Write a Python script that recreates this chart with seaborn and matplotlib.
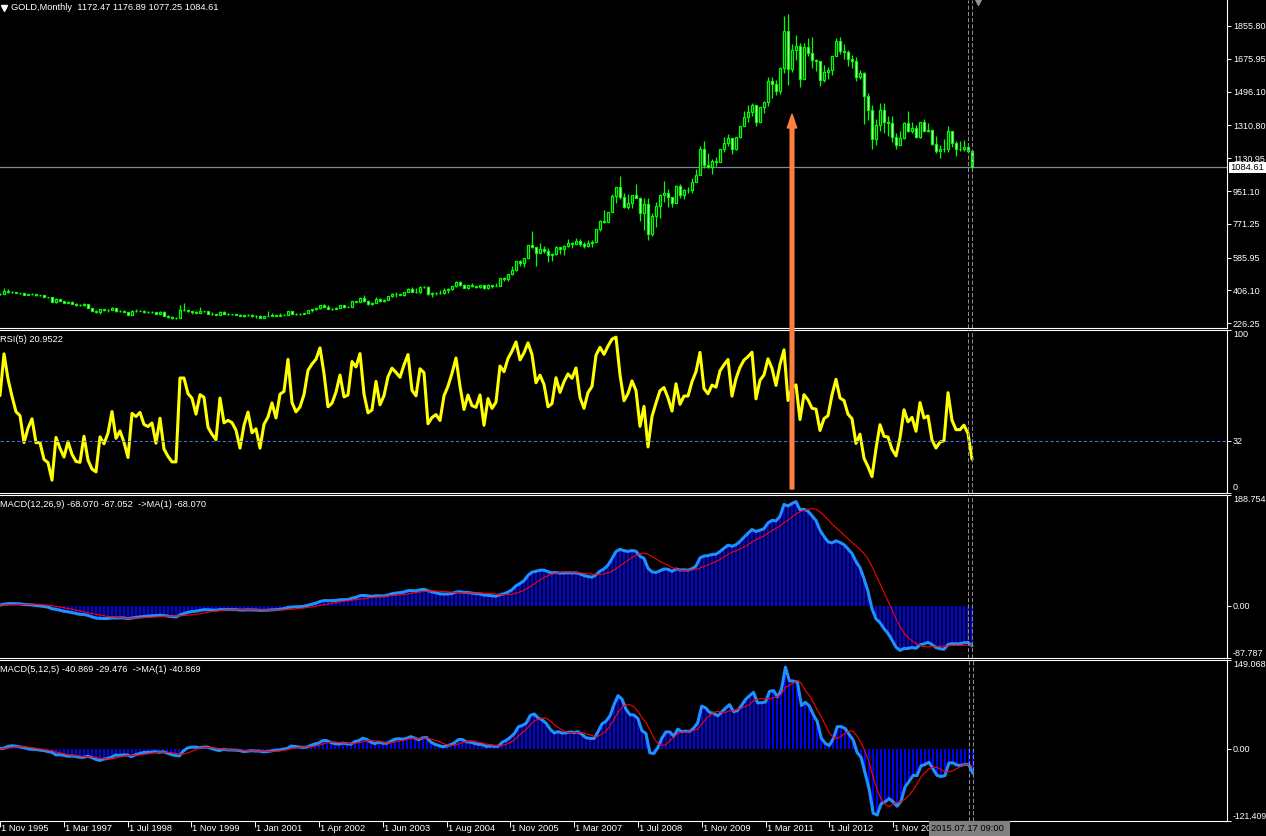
import matplotlib
matplotlib.use("Agg")

import matplotlib.pyplot as plt
import matplotlib.transforms as mtransforms
import numpy as np
import pandas as pd
import seaborn as sns
from matplotlib.patches import FancyArrow, Rectangle

# Monthly gold bars as they stand in the terminal history (Nov 1995 .. Jul 2015).
# A few months show up twice in 2000-2005, that is why the time labels drift.
warmup_close = [378, 381, 389, 376, 387, 386, 384, 386, 394, 389, 383, 383,
                375, 376, 392, 390, 385, 387, 383, 382, 384, 383]

close = [
    387, 387,
    405, 400, 396, 392, 391, 382, 385, 387, 379, 379, 371, 369,
    345, 358, 349, 340, 345, 334, 326, 325, 332, 311, 296, 290,
    303, 297, 301, 310, 293, 296, 288, 273, 294, 292, 294, 288,
    287, 288, 279, 286, 268, 261, 255, 255, 299, 299, 292, 290,
    283, 293, 292, 279, 275, 272, 288, 276, 277, 276, 273, 264, 270, 274,
    266, 267, 258, 264, 266, 270, 266, 273, 274, 293, 279, 275, 277,
    282, 297, 303, 308, 326, 318, 304, 306, 312, 324, 316, 317, 347, 345,
    367, 347, 334, 336, 361, 346, 354, 375, 388, 386, 384, 398, 416,
    399, 396, 427, 425, 388, 393, 395, 391, 407, 415, 428, 453, 438,
    422, 435, 428, 427, 435, 417, 435, 429, 433, 473, 470, 495, 517,
    569, 556, 583, 654, 643, 614, 633, 624, 600, 604, 646, 632,
    650, 665, 662, 680, 659, 650, 666, 673, 743, 789, 783, 834,
    924, 972, 917, 865, 886, 928, 912, 833, 880, 718, 815, 870,
    927, 942, 917, 884, 980, 927, 955, 955, 1000, 1040, 1181, 1096,
    1082, 1117, 1113, 1180, 1213, 1244, 1181, 1247, 1307, 1357, 1384, 1421,
    1332, 1411, 1439, 1556, 1536, 1500, 1628, 1826, 1620, 1722, 1746, 1565,
    1738, 1710, 1668, 1664, 1561, 1604, 1614, 1692, 1772, 1719, 1712, 1675,
    1663, 1578, 1596, 1472, 1393, 1234, 1312, 1395, 1327, 1323, 1250, 1202,
    1244, 1326, 1283, 1295, 1250, 1327, 1282, 1287, 1208, 1172, 1182, 1184,
    1283, 1213, 1183, 1183, 1190, 1172.47, 1084.61,
]

high = [
    390, 390,
    418, 416, 401, 398, 394, 391, 389, 391, 388, 384, 384, 372,
    368, 366, 358, 349, 348, 346, 335, 332, 335, 334, 312, 298,
    306, 305, 302, 315, 311, 298, 298, 290, 300, 306, 300, 297,
    294, 296, 289, 292, 291, 269, 264, 259, 325, 338, 301, 292,
    292, 318, 296, 296, 287, 278, 292, 291, 280, 279, 278, 275, 271, 275,
    275, 269, 270, 266, 292, 280, 271, 281, 276, 294, 294, 280, 280,
    284, 299, 303, 310, 327, 330, 325, 309, 316, 327, 324, 322, 349, 350,
    371, 382, 352, 341, 372, 365, 360, 376, 390, 396, 389, 400, 417,
    427, 419, 428, 431, 430, 396, 396, 409, 417, 418, 431, 457, 457,
    443, 437, 445, 431, 438, 432, 442, 432, 448, 476, 480, 498, 541,
    570, 573, 586, 656, 730, 643, 668, 650, 638, 612, 650, 643,
    654, 690, 672, 693, 690, 670, 683, 681, 745, 795, 847, 837,
    934, 975, 1033, 943, 933, 932, 989, 916, 915, 915, 832, 889,
    935, 1006, 961, 916, 982, 989, 961, 973, 1023, 1071, 1196, 1226,
    1162, 1126, 1137, 1183, 1249, 1266, 1212, 1250, 1308, 1389, 1424, 1432,
    1424, 1413, 1447, 1576, 1577, 1560, 1632, 1913, 1920, 1756, 1804, 1764,
    1764, 1791, 1793, 1676, 1666, 1641, 1631, 1693, 1789, 1796, 1755, 1723,
    1697, 1684, 1617, 1601, 1488, 1424, 1347, 1434, 1434, 1361, 1361, 1267,
    1280, 1332, 1392, 1331, 1315, 1332, 1346, 1324, 1287, 1255, 1205, 1238,
    1307, 1240, 1224, 1224, 1232, 1205, 1176.89,
]

low = [
    383, 384,
    387, 395, 394, 390, 389, 381, 380, 384, 378, 378, 369, 367,
    343, 340, 348, 337, 338, 333, 320, 320, 321, 308, 294, 283,
    278, 295, 290, 301, 290, 286, 286, 272, 272, 288, 291, 284,
    284, 285, 278, 278, 268, 256, 252, 252, 254, 292, 288, 279,
    282, 282, 290, 278, 274, 271, 271, 275, 270, 274, 270, 264, 263, 266,
    263, 255, 256, 254, 264, 267, 264, 265, 272, 272, 277, 273, 272,
    277, 281, 290, 301, 306, 317, 302, 301, 303, 312, 312, 315, 317, 341,
    344, 344, 326, 324, 335, 343, 342, 352, 371, 371, 380, 376, 396,
    397, 391, 393, 420, 383, 372, 382, 387, 389, 395, 410, 425, 428,
    417, 415, 425, 422, 421, 413, 413, 417, 428, 432, 460, 458, 493,
    514, 541, 537, 583, 640, 543, 614, 609, 560, 570, 600, 607,
    602, 647, 637, 660, 652, 640, 642, 643, 670, 730, 777, 780,
    834, 886, 910, 860, 850, 860, 911, 786, 737, 681, 705, 756,
    806, 891, 866, 865, 883, 911, 909, 939, 943, 1003, 1038, 1075,
    1075, 1044, 1088, 1115, 1164, 1198, 1155, 1176, 1242, 1309, 1327, 1363,
    1308, 1328, 1380, 1420, 1462, 1477, 1481, 1600, 1535, 1602, 1670, 1523,
    1565, 1690, 1627, 1611, 1527, 1548, 1564, 1586, 1690, 1702, 1673, 1636,
    1626, 1555, 1565, 1321, 1338, 1180, 1205, 1283, 1271, 1251, 1221, 1182,
    1202, 1239, 1277, 1268, 1240, 1240, 1281, 1273, 1206, 1160, 1131, 1167,
    1167, 1191, 1142, 1170, 1170, 1162, 1077.25,
]

# the label of the last tick (1 Mar 2015) sits under the crosshair box
time_labels = ["1 Nov 1995", "1 Mar 1997", "1 Jul 1998", "1 Nov 1999", "1 Jan 2001",
               "1 Apr 2002", "1 Jun 2003", "1 Aug 2004", "1 Nov 2005", "1 Mar 2007",
               "1 Jul 2008", "1 Nov 2009", "1 Mar 2011", "1 Jul 2012", "1 Nov 2013"]
label_every = 16
n_time_ticks = 16

price_ticks = [1855.80, 1675.95, 1496.10, 1310.80, 1130.95, 951.10, 771.25, 585.95, 406.10, 226.25]
price_range = (203.2, 1998.3)
last_price = 1084.61
rsi_ticks = [0, 32, 100]
macd_slow_ticks = [-87.787, 0.0, 188.754]
macd_fast_ticks = [-121.409, 0.0, 149.068]

W, H = 1266, 836
AXIS_X = 1227
FS = 6.7
FS_AXIS = 6.5

sns.set_style("dark")
plt.rcParams["font.family"] = ["Liberation Sans", "DejaVu Sans"]
plt.rcParams["axes.facecolor"] = "black"
plt.rcParams["figure.facecolor"] = "black"

# indicators, same recipe as the terminal (Wilder RSI, EMA MACD with SMA signal)
series = pd.Series(warmup_close + close, dtype=float)
n_warm = len(warmup_close)


def rsi(s, n):
    d = s.diff()
    up = d.clip(lower=0).ewm(alpha=1 / n, adjust=False).mean()
    dn = (-d.clip(upper=0)).ewm(alpha=1 / n, adjust=False).mean()
    return 100 - 100 / (1 + up / dn)


def macd(s, fast, slow, sig):
    main = s.ewm(span=fast, adjust=False).mean() - s.ewm(span=slow, adjust=False).mean()
    return main, main.rolling(sig).mean()


df = pd.DataFrame({"bar": np.arange(len(close)), "close": close, "high": high, "low": low})
df["open"] = series.shift(1).iloc[n_warm:].values
df["rsi"] = rsi(series, 5).iloc[n_warm:].values
m, s = macd(series, 12, 26, 9)
df["macd1"], df["sig1"] = m.iloc[n_warm:].values, s.iloc[n_warm:].values
m, s = macd(series, 5, 12, 5)
df["macd2"], df["sig2"] = m.iloc[n_warm:].values, s.iloc[n_warm:].values

fig = plt.figure(figsize=(W / 100, H / 100), dpi=100)


def panel(top, bottom):
    return fig.add_axes([0, 1 - bottom / H, AXIS_X / W, (bottom - top) / H])


ax_p = panel(0, 327.5)
ax_r = panel(330, 492.5)
ax_m1 = panel(494.5, 657.5)
ax_m2 = panel(660, 821)
x_left, x_right = 1.0, 1.0 + AXIS_X / 4

for ax in [ax_p, ax_r, ax_m1, ax_m2]:
    ax.set_facecolor("black")
    ax.grid(False)
    ax.spines["left"].set_visible(False)
    for side in ["top", "bottom", "right"]:
        ax.spines[side].set_color("white")
        ax.spines[side].set_linewidth(0.8)
    ax.yaxis.tick_right()
    ax.tick_params(axis="y", colors="white", length=3, width=0.7, pad=1.2, labelsize=FS_AXIS)
    ax.tick_params(axis="x", bottom=False, labelbottom=False)
    for xv in [243, 244]:
        ax.axvline(xv, color="#8a8a8a", lw=0.75, ls=(0, (4, 2)), zorder=4)
ax_p.spines["top"].set_visible(False)

# candles
up = df["close"] >= df["open"]
ax_p.vlines(df["bar"], df["low"], df["high"], color="#00ff00", lw=0.9, zorder=2)
ax_p.bar(df["bar"], (df["close"] - df["open"]).abs(), bottom=np.minimum(df["open"], df["close"]),
         width=0.72, color=np.where(up, "black", "white"), edgecolor="#00ff00",
         linewidth=0.9, zorder=3)
ax_p.axhline(last_price, color="#778899", lw=0.9, zorder=1)
ax_p.set_ylim(*price_range)
ax_p.set_yticks(price_ticks, [f"{v:.2f}" for v in price_ticks])

# RSI
sns.lineplot(data=df, x="bar", y="rsi", color="#ffff00", lw=2.2, ax=ax_r)
ax_r.axhline(32, color="#4169e1", lw=0.8, ls=(0, (3, 2)))
ax_r.set_ylim(0, 100)
ax_r.set_yticks(rsi_ticks, [str(v) for v in rsi_ticks])

# MACDs
for ax, mcol, scol, ticks in [(ax_m1, "macd1", "sig1", macd_slow_ticks),
                              (ax_m2, "macd2", "sig2", macd_fast_ticks)]:
    ax.bar(df["bar"], df[mcol], width=0.5, color="#0000ff", linewidth=0)
    sns.lineplot(data=df, x="bar", y=mcol, color="#1e90ff", lw=2.2, ax=ax)
    sns.lineplot(data=df, x="bar", y=scol, color="#ff0000", lw=0.8, ax=ax)
    ax.set_ylim(ticks[0], ticks[-1])
    ax.set_yticks(ticks, [f"{ticks[0]:.3f}", "0.00", f"{ticks[-1]:.3f}"])

for ax in [ax_r, ax_m1, ax_m2]:
    labels = ax.get_yticklabels()
    labels[0].set_verticalalignment("bottom")
    labels[-1].set_verticalalignment("top")
# the widest label sits right at the window edge
ax_m2.get_yticklabels()[0].set_fontsize(6.2)

for ax in [ax_p, ax_r, ax_m1, ax_m2]:
    ax.set_xlim(x_left, x_right)
    ax.set_xlabel("")
    ax.set_ylabel("")

# time scale
tick_bars = [i * label_every for i in range(n_time_ticks)]
ax_m2.set_xticks(tick_bars)
ax_m2.tick_params(axis="x", bottom=True, labelbottom=False, colors="white", length=4, width=0.7)
trans = mtransforms.blended_transform_factory(ax_m2.transData, fig.transFigure)
box_left = 929
for b, lab in zip(tick_bars, time_labels):
    t = ax_m2.text(b + 0.25, 1 - 828.5 / H, lab, transform=trans, color="white", fontsize=FS,
                   ha="left", va="center", clip_on=True)
    t.set_clip_box(mtransforms.Bbox([[0, 0], [box_left, 30]]))


def ftext(x, y, s, **kw):
    fig.text(x / W, 1 - y / H, s, fontsize=FS, va="center", **kw)


ftext(11, 7.5, "GOLD,Monthly  1172.47 1176.89 1077.25 1084.61", color="white")
ftext(0, 339, "RSI(5) 20.9522", color="white")
ftext(0, 504, "MACD(12,26,9) -68.070 -67.052  ->MA(1) -68.070", color="white")
ftext(0, 669, "MACD(5,12,5) -40.869 -29.476  ->MA(1) -40.869", color="white")
fig.add_artist(plt.Line2D([4 / W], [1 - 7.5 / H], marker="v", color="white", markersize=4.5,
                          transform=fig.transFigure))
fig.add_artist(plt.Line2D([978 / W], [1 - 2 / H], marker="v", color="#8c96a0", markersize=5,
                          transform=fig.transFigure))

# last price box and crosshair time box
fig.add_artist(Rectangle((1228.5 / W, 1 - 173 / H), 37.5 / W, 11 / H, transform=fig.transFigure,
                         facecolor="white", edgecolor="none", zorder=5))
ftext(1230, 167.5, f"{last_price:.2f}", color="black", zorder=6)
fig.add_artist(Rectangle((box_left / W, 0), 81 / W, 15 / H, transform=fig.transFigure,
                         facecolor="#808080", edgecolor="none", zorder=5))
ftext(931, 828.5, "2015.07.17 09:00", color="black", zorder=6)

# the orange marker arrow from the RSI bottom up to the 2011 top
fig.add_artist(FancyArrow(7.92, (H - 489) / 100, 0, (489 - 114) / 100, width=0.037,
                          head_width=0.095, head_length=0.14, length_includes_head=True,
                          color="#ff8040", transform=fig.dpi_scale_trans, zorder=10))

fig.savefig("out.png", dpi=100, facecolor="black")
